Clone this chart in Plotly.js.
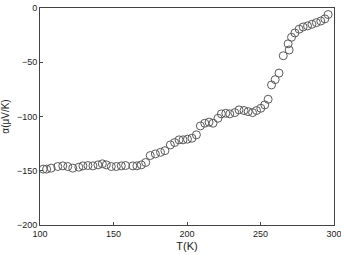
<!DOCTYPE html>
<html>
<head>
<meta charset="utf-8">
<script src="https://cdn.plot.ly/plotly-3.0.1.min.js"></script>
<style>html,body{margin:0;padding:0;background:#fff;}#chart{width:341px;height:255px;}</style>
</head>
<body>
<div id="chart"></div>
<script>
const temperature = [102.2, 104.5, 107.6, 112.1, 115.5, 118.9, 122.3, 126.4, 129.2, 132.6, 136.0, 139.4, 142.4, 145.1, 148.5, 151.9, 155.3, 158.2, 163.2, 165.9, 168.9, 171.9, 175.0, 178.5, 182.0, 185.0, 188.7, 191.6, 194.6, 197.3, 200.3, 203.4, 206.4, 209.1, 212.1, 215.0, 217.7, 221.1, 223.4, 226.4, 229.1, 232.5, 235.4, 238.8, 241.6, 244.6, 247.3, 250.2, 252.9, 255.2, 257.5, 260.0, 262.6, 265.5, 268.8, 269.5, 271.1, 273.4, 276.3, 279.0, 282.0, 285.0, 288.0, 291.0, 293.8, 296.0];
const seebeck = [-148.5, -148.5, -147.6, -146.1, -145.5, -146.1, -147.6, -146.7, -145.5, -145.2, -145.5, -144.6, -143.6, -144.6, -146.1, -146.1, -145.5, -145.2, -145.5, -145.5, -144.6, -142.4, -136.0, -134.5, -133.0, -131.5, -126.2, -124.0, -121.5, -121.5, -120.9, -120.0, -116.9, -108.7, -106.2, -105.2, -106.2, -101.6, -97.6, -97.0, -97.6, -96.4, -93.9, -94.5, -95.5, -96.4, -94.5, -92.4, -89.3, -84.1, -70.9, -66.0, -60.0, -44.0, -33.0, -38.7, -27.0, -23.0, -19.5, -17.5, -16.5, -15.0, -13.5, -12.0, -10.0, -6.0];
const xTicks = [100, 150, 200, 250, 300];
const yTicks = [-200, -150, -100, -50, 0];

const font = {family: 'Liberation Sans, Arial, sans-serif', size: 9, color: '#222'};
Plotly.newPlot('chart', [{
  x: temperature, y: seebeck, type: 'scatter', mode: 'markers',
  marker: {symbol: 'circle-open', size: 8, color: '#5a5a5a', line: {width: 1, color: '#5a5a5a'}}
}], {
  width: 341, height: 255,
  margin: {l: 40, r: 7, t: 8, b: 30},
  paper_bgcolor: '#fff', plot_bgcolor: '#fff',
  showlegend: false,
  font: font,
  xaxis: {range: [100, 300], tickvals: xTicks, ticks: 'inside', ticklen: 3, tickcolor: '#444',
    ticklabeloverflow: 'allow',
    showline: true, linecolor: '#444', linewidth: 1, mirror: true, showgrid: false, zeroline: false,
    tickfont: font, title: {text: 'T(K)', font: {family: 'Liberation Sans, Arial, sans-serif', size: 11, color: '#222'}, standoff: 4}},
  yaxis: {range: [-200, 0], tickvals: yTicks, ticks: 'inside', ticklen: 3, tickcolor: '#444',
    ticklabeloverflow: 'allow',
    showline: true, linecolor: '#444', linewidth: 1, mirror: true, showgrid: false, zeroline: false,
    tickfont: font, title: {text: 'α(μV/K)', font: {family: 'Liberation Sans, Arial, sans-serif', size: 10, color: '#222'}, standoff: 6}}
}, {displayModeBar: false, staticPlot: true});
</script>
</body>
</html>
